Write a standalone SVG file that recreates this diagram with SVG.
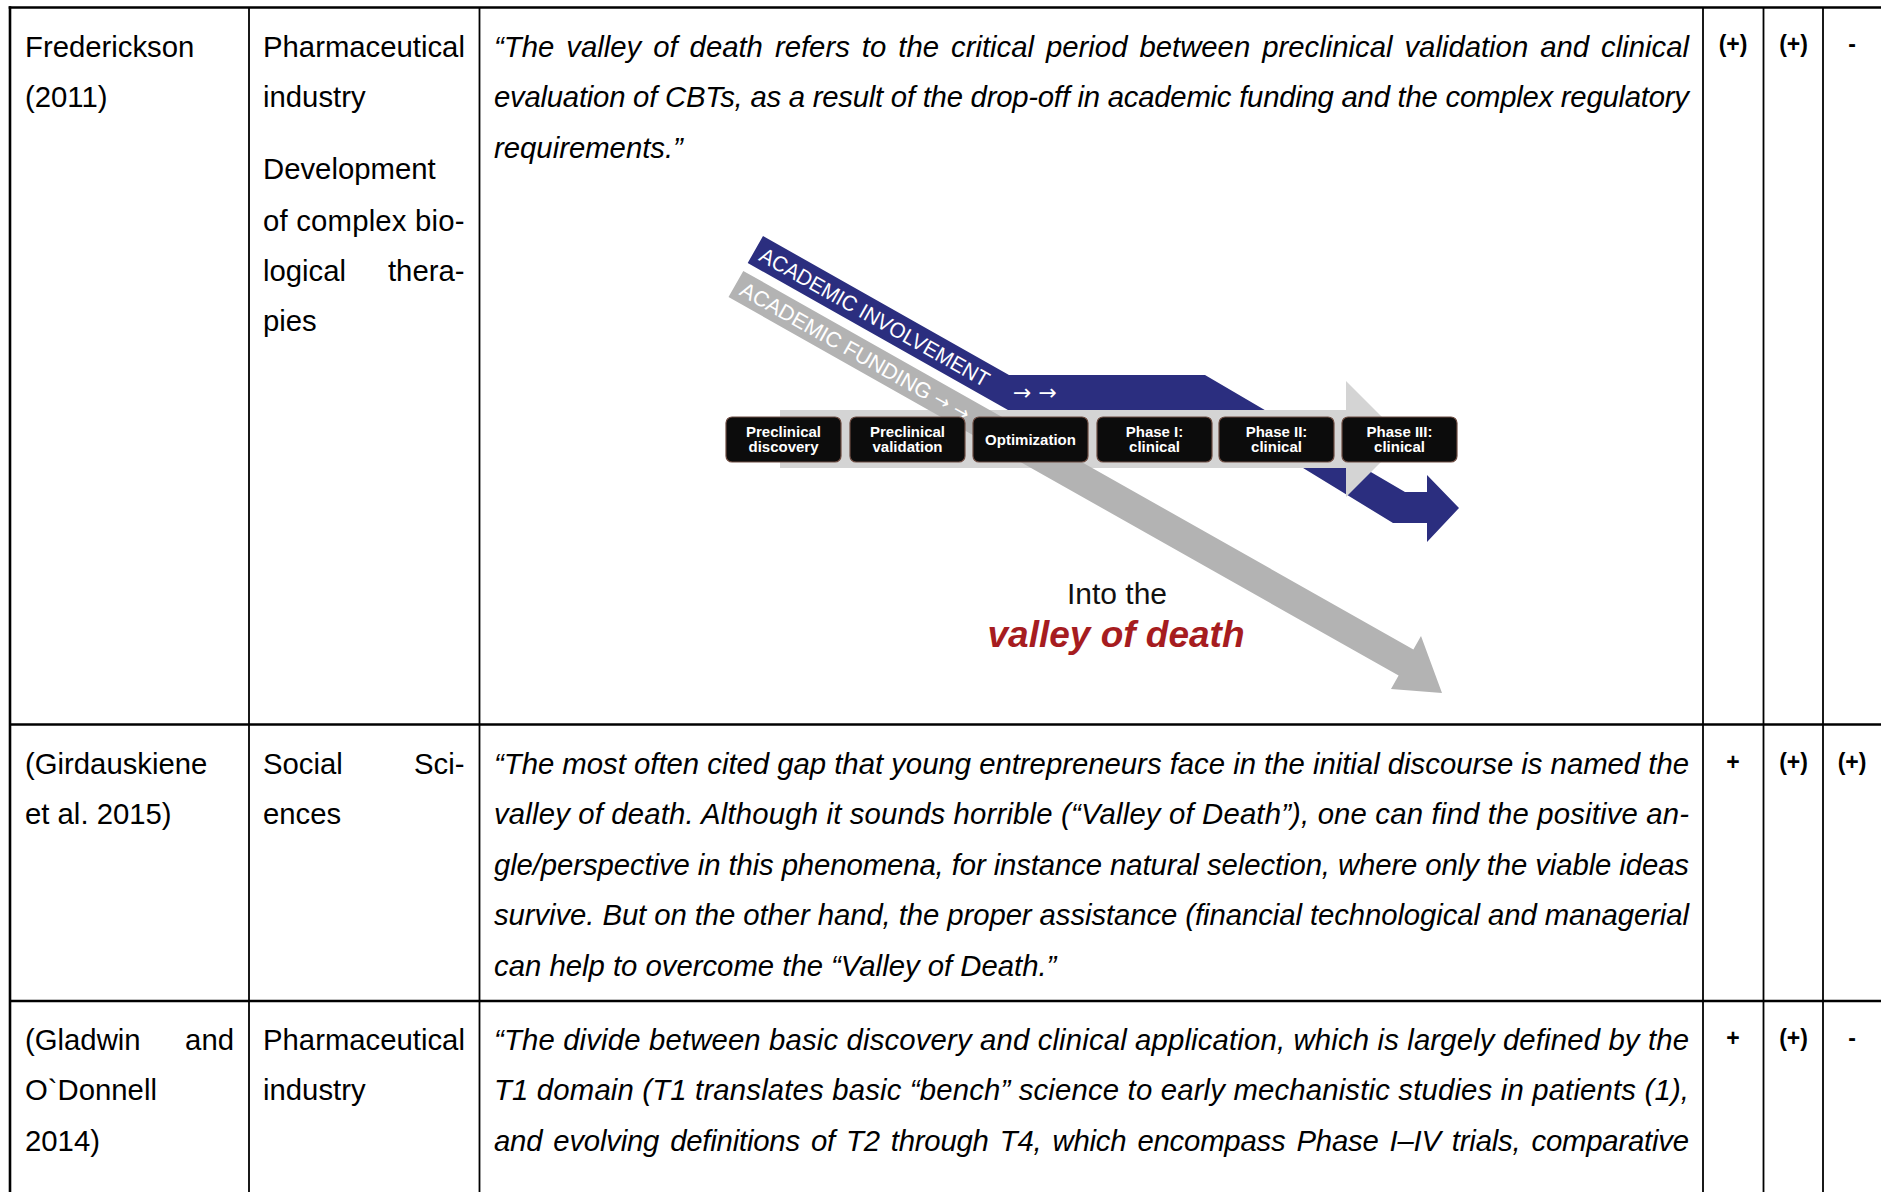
<svg xmlns="http://www.w3.org/2000/svg" width="1881" height="1192" viewBox="0 0 1881 1192">
<style>
.t{font-family:"Liberation Sans",Arial,sans-serif;font-size:29.3px;fill:#000}
.q{font-style:italic}
.v{font-family:"Liberation Sans",Arial,sans-serif;font-size:23px;font-weight:bold;text-anchor:middle;fill:#000}
.h{stroke:#000;stroke-width:2.6}
.c{stroke:#000;stroke-width:1.8}
.bx{fill:#0c0c0c;stroke:#6d4c42;stroke-width:1.2}
.bt{font-family:"Liberation Sans",Arial,sans-serif;font-size:15px;font-weight:bold;fill:#fff;text-anchor:middle}
.bl{font-family:"Liberation Sans","DejaVu Sans",sans-serif;font-size:21.5px;fill:#fff}
.ar{font-family:"DejaVu Sans",sans-serif;fill:#fff}
</style>
<rect width="1881" height="1192" fill="#fff"/>

<g id="grid">
<line class="h" x1="8.7" y1="7.5" x2="1881" y2="7.5"/>
<line class="h" x1="10" y1="6.2" x2="10" y2="1192"/>
<line class="h" x1="10" y1="724.5" x2="1881" y2="724.5"/>
<line class="h" x1="10" y1="1001" x2="1881" y2="1001"/>
<line class="c" x1="249" y1="7.5" x2="249" y2="1192"/>
<line class="c" x1="479.5" y1="7.5" x2="479.5" y2="1192"/>
<line class="c" x1="1703" y1="7.5" x2="1703" y2="1192"/>
<line class="c" x1="1763.5" y1="7.5" x2="1763.5" y2="1192"/>
<line class="c" x1="1823" y1="7.5" x2="1823" y2="1192"/>
</g>

<g id="row1">
<text class="t" x="25" y="57">Frederickson</text>
<text class="t" x="25" y="107.4">(2011)</text>
<text class="t" x="263" y="57">Pharmaceutical</text>
<text class="t" x="263" y="107.4">industry</text>
<text class="t" x="263" y="179">Development</text>
<text class="t" x="263" y="230.6" textLength="201.5" lengthAdjust="spacing">of complex bio-</text>
<text class="t" x="263" y="281">logical</text>
<text class="t" x="464.5" y="281" text-anchor="end">thera-</text>
<text class="t" x="263" y="331.4">pies</text>
<text class="t q" x="494" y="57" word-spacing="3.9" textLength="1195" lengthAdjust="spacing">“The valley of death refers to the critical period between preclinical validation and clinical</text>
<text class="t q" x="494" y="107.4" textLength="1195" lengthAdjust="spacing">evaluation of CBTs, as a result of the drop-off in academic funding and the complex regulatory</text>
<text class="t q" x="494" y="157.8">requirements.”</text>
<text class="v" x="1733" y="52">(+)</text>
<text class="v" x="1793.5" y="52">(+)</text>
<text class="v" x="1852" y="52">-</text>
</g>

<g id="figure">
<g id="connectors">
<polygon id="academic-involvement" fill="#2b2e7f" points="763,236 1009,375 1205,375 1405,492 1427,492 1427,475 1459,508 1427,542 1427,523 1393,523 1208,410 1008,410 747.7,263"/>
<path id="pipeline-bar" fill="#d4d4d4" d="M780,410 H1346 V381 L1404,439 L1346,497 V468 H780 Z"/>
<polygon id="academic-funding" fill="#b3b3b3" points="743.3,270.9 1413.4,649.4 1421,636 1442,693 1391,689 1398.6,675.6 728.5,297"/>
</g>
<g transform="translate(757.8,259.8) rotate(29.46)">
<text class="bl" x="0" y="0" textLength="260" lengthAdjust="spacingAndGlyphs">ACADEMIC INVOLVEMENT</text>
</g>
<text class="ar" x="1013" y="399.5" font-size="22">→ →</text>
<g transform="translate(738.3,294.2) rotate(29.46)">
<text class="bl" x="0" y="0" textLength="216" lengthAdjust="spacingAndGlyphs">ACADEMIC FUNDING</text>
<text class="ar" x="222" y="-1" font-size="19">→ →</text>
</g>

<g id="box1"><rect class="bx" x="726" y="417" width="115" height="45" rx="6"/><text class="bt" x="783.5" y="437">Preclinical</text><text class="bt" x="783.5" y="451.5">discovery</text></g>
<g id="box2"><rect class="bx" x="850" y="417" width="115" height="45" rx="6"/><text class="bt" x="907.5" y="437">Preclinical</text><text class="bt" x="907.5" y="451.5">validation</text></g>
<g id="box3"><rect class="bx" x="973" y="417" width="115" height="45" rx="6"/><text class="bt" x="1030.5" y="444.5">Optimization</text></g>
<g id="box4"><rect class="bx" x="1097" y="417" width="115" height="45" rx="6"/><text class="bt" x="1154.5" y="437">Phase I:</text><text class="bt" x="1154.5" y="451.5">clinical</text></g>
<g id="box5"><rect class="bx" x="1219" y="417" width="115" height="45" rx="6"/><text class="bt" x="1276.5" y="437">Phase II:</text><text class="bt" x="1276.5" y="451.5">clinical</text></g>
<g id="box6"><rect class="bx" x="1342" y="417" width="115" height="45" rx="6"/><text class="bt" x="1399.5" y="437">Phase III:</text><text class="bt" x="1399.5" y="451.5">clinical</text></g>

<g id="valley-label">
<text x="1117" y="604" font-family="Liberation Sans, Arial, sans-serif" font-size="30" text-anchor="middle" fill="#111">Into the</text>
<text x="1116" y="647" font-family="Liberation Sans, Arial, sans-serif" font-size="37" font-weight="bold" font-style="italic" fill="#a61c20" text-anchor="middle">valley of death</text>
</g>
</g>

<g id="row2">
<text class="t" x="25" y="774">(Girdauskiene</text>
<text class="t" x="25" y="824.4">et al. 2015)</text>
<text class="t" x="263" y="774">Social</text>
<text class="t" x="464.5" y="774" text-anchor="end">Sci-</text>
<text class="t" x="263" y="824.4">ences</text>
<text class="t q" x="494" y="774" textLength="1195" lengthAdjust="spacing">“The most often cited gap that young entrepreneurs face in the initial discourse is named the</text>
<text class="t q" x="494" y="824.4" textLength="1195" lengthAdjust="spacing">valley of death. Although it sounds horrible (“Valley of Death”), one can find the positive an-</text>
<text class="t q" x="494" y="874.8" textLength="1195" lengthAdjust="spacing">gle/perspective in this phenomena, for instance natural selection, where only the viable ideas</text>
<text class="t q" x="494" y="925.2" textLength="1195" lengthAdjust="spacing">survive. But on the other hand, the proper assistance (financial technological and managerial</text>
<text class="t q" x="494" y="975.6">can help to overcome the “Valley of Death.”</text>
<text class="v" x="1733" y="770">+</text>
<text class="v" x="1793.5" y="770">(+)</text>
<text class="v" x="1852" y="770">(+)</text>
</g>

<g id="row3">
<text class="t" x="25" y="1050">(Gladwin</text>
<text class="t" x="234" y="1050" text-anchor="end">and</text>
<text class="t" x="25" y="1100.4">O`Donnell</text>
<text class="t" x="25" y="1150.8">2014)</text>
<text class="t" x="263" y="1050">Pharmaceutical</text>
<text class="t" x="263" y="1100.4">industry</text>
<text class="t q" x="494" y="1050" textLength="1195" lengthAdjust="spacing">“The divide between basic discovery and clinical application, which is largely defined by the</text>
<text class="t q" x="494" y="1100.4" textLength="1195" lengthAdjust="spacing">T1 domain (T1 translates basic “bench” science to early mechanistic studies in patients (1),</text>
<text class="t q" x="494" y="1150.8" word-spacing="3.1" textLength="1195" lengthAdjust="spacing">and evolving definitions of T2 through T4, which encompass Phase I–IV trials, comparative</text>
<text class="v" x="1733" y="1046">+</text>
<text class="v" x="1793.5" y="1046">(+)</text>
<text class="v" x="1852" y="1046">-</text>
</g>
</svg>
